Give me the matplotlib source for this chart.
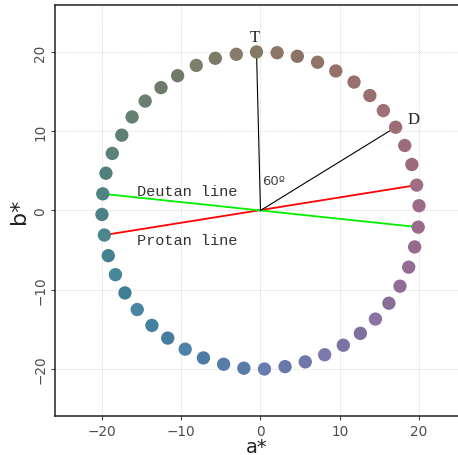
#!/usr/bin/env python3
# hue circle in the a*b* plane with protan / deutan confusion lines
import matplotlib
matplotlib.use("Agg")
import matplotlib.pyplot as plt
import numpy as np

# === DATA ===
A_VALS = [20.0, 19.7, 19.1, 18.2, 17.05, 15.5, 13.8, 11.8, 9.5, 7.2, 4.65, 2.1,
          -0.5, -3.05, -5.7, -8.1, -10.45, -12.55, -14.55, -16.2, -17.5, -18.7, -19.5, -19.9,
          -20.0, -19.7, -19.2, -18.3, -17.1, -15.55, -13.7, -11.7, -9.5, -7.2, -4.65, -2.1,
          0.5, 3.1, 5.65, 8.1, 10.45, 12.6, 14.5, 16.2, 17.6, 18.7, 19.45, 19.9]
B_VALS = [0.6, 3.2, 5.8, 8.2, 10.5, 12.6, 14.5, 16.2, 17.6, 18.7, 19.45, 19.9,
          20.0, 19.7, 19.2, 18.3, 17.0, 15.5, 13.8, 11.8, 9.5, 7.2, 4.7, 2.1,
          -0.5, -3.1, -5.7, -8.1, -10.4, -12.5, -14.5, -16.1, -17.5, -18.6, -19.4, -19.9,
          -20.0, -19.7, -19.1, -18.2, -17.0, -15.5, -13.7, -11.7, -9.55, -7.15, -4.6, -2.1]
# per-point lightness of the swatches (they are not all equal)
L_VALS = [51, 52.5, 50, 51, 51, 52.5, 51, 51, 51, 51, 50, 51,
          51, 52.5, 51, 52.5, 50, 50, 51, 51, 50.5, 51, 50, 51,
          51, 52, 51, 52.5, 50, 53, 51, 50, 52.5, 50, 51, 51,
          52.5, 51, 51, 52.5, 51, 50, 52.5, 50, 51, 51, 50, 51]
# the swatch colours sit a little bluer / redder than their plotted a*, b*
COLOR_SHIFT_A, COLOR_SHIFT_B = 3.5, -8.0

T_IDX, D_IDX = 12, 4             # tritan / deutan reference points
PROTAN_IDX = (25, 1)
DEUTAN_IDX = (23, 47)
ANGLE_LABEL = "60º"

TICKS = [-20, -10, 0, 10, 20]


def lab_to_rgb(L, a, b):
    """CIE Lab (D65) -> sRGB in [0, 1]."""
    fy = (L + 16) / 116
    fx = fy + a / 500
    fz = fy - b / 200
    def finv(t):
        return np.where(t > 6 / 29, t ** 3, 3 * (6 / 29) ** 2 * (t - 4 / 29))
    X, Y, Z = 0.95047 * finv(fx), finv(fy), 1.08883 * finv(fz)
    M = np.array([[3.2406, -1.5372, -0.4986],
                  [-0.9689, 1.8758, 0.0415],
                  [0.0557, -0.2040, 1.0570]])
    lin = M @ np.vstack([X, Y, Z])
    lin = np.clip(lin, 0, 1)
    srgb = np.where(lin <= 0.0031308, 12.92 * lin, 1.055 * lin ** (1 / 2.4) - 0.055)
    return np.clip(srgb.T, 0, 1)


a = np.array(A_VALS)
b = np.array(B_VALS)
colors = lab_to_rgb(np.array(L_VALS, dtype=float), a + COLOR_SHIFT_A, b + COLOR_SHIFT_B)

fig = plt.figure(figsize=(4.58, 4.56), dpi=100)
ax = fig.add_axes([0.120, 0.0855, 0.880, 0.9015])

ax.grid(True, linestyle=(0, (1, 1.5)), linewidth=0.6, color="#cccccc")
ax.set_axisbelow(True)

# confusion lines
ax.plot([a[PROTAN_IDX[0]], a[PROTAN_IDX[1]]], [b[PROTAN_IDX[0]], b[PROTAN_IDX[1]]],
        color="#ff0000", linewidth=1.3, zorder=2)
ax.plot([a[DEUTAN_IDX[0]], a[DEUTAN_IDX[1]]], [b[DEUTAN_IDX[0]], b[DEUTAN_IDX[1]]],
        color="#00ee00", linewidth=1.3, zorder=2)
# reference rays
for idx in (T_IDX, D_IDX):
    ax.plot([0, a[idx]], [0, b[idx]], color="black", linewidth=0.8, zorder=2)

ax.scatter(a, b, s=92, c=colors, edgecolors="none", zorder=3)

ax.text(a[T_IDX] - 0.2, b[T_IDX] + 1.9, "T", family="Liberation Serif", fontsize=12,
        ha="center", va="center", color="#222222")
ax.text(a[D_IDX] + 2.2, b[D_IDX] + 1.1, "D", family="Liberation Serif", fontsize=12,
        ha="center", va="center", color="#222222")
ax.text(0.2, 3.8, ANGLE_LABEL, fontsize=9.5, ha="left", va="center", color="#444444")
ax.text(-15.6, 2.5, "Deutan line", family="Liberation Mono", fontsize=11,
        ha="left", va="center", color="#333333")
ax.text(-15.6, -3.7, "Protan line", family="Liberation Mono", fontsize=11,
        ha="left", va="center", color="#333333")

ax.set_xlim(-25.93, 24.92)
ax.set_ylim(-25.93, 25.93)
ax.set_xticks(TICKS)
ax.set_yticks(TICKS)
ax.tick_params(length=3, width=0.8, color="#444444", labelcolor="#4d4d4d",
               labelsize=9.8, pad=2.5)
for lab in ax.get_yticklabels():
    lab.set_rotation(90)
    lab.set_va("center")
ax.spines["right"].set_visible(False)
for s in ("left", "bottom", "top"):
    ax.spines[s].set_linewidth(1.1)
    ax.spines[s].set_color("#222222")

ax.set_xlabel("a*", fontsize=14, color="#222222", labelpad=-0.5)
ax.set_ylabel("b*", fontsize=16, color="#222222", labelpad=3)

fig.savefig("out.png", dpi=100)
